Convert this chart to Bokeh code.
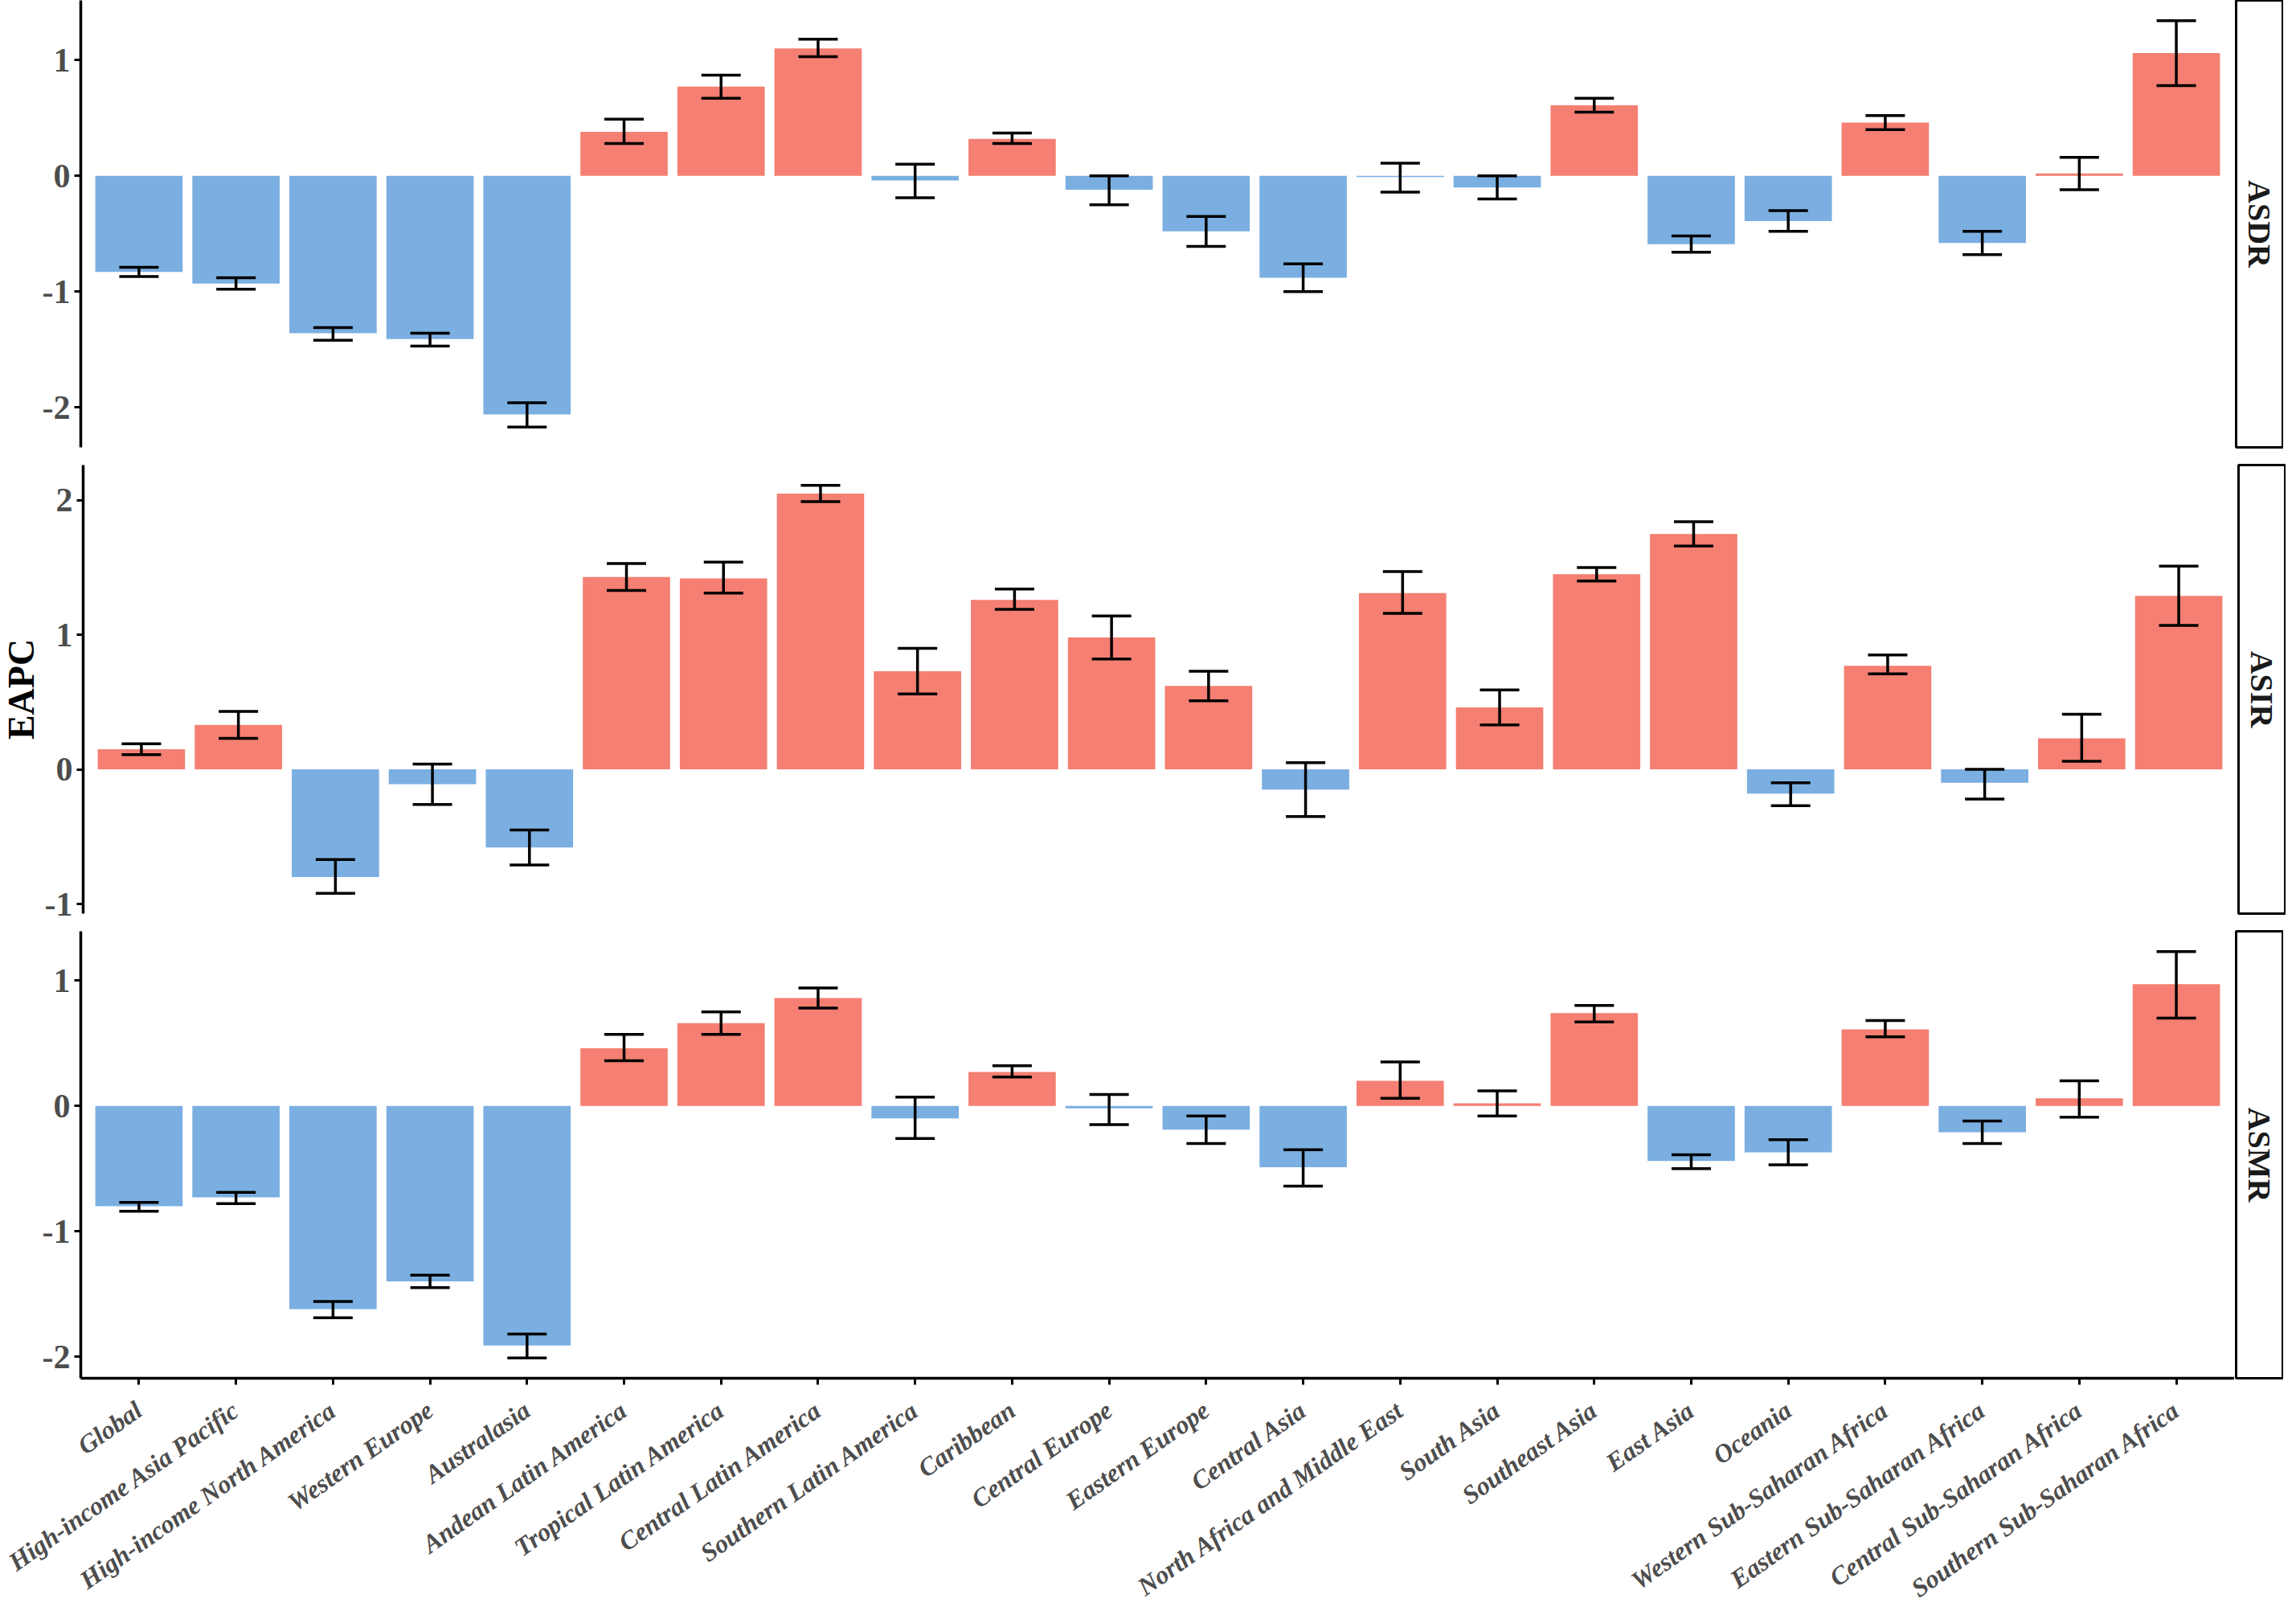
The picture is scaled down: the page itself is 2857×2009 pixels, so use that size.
import math
from bokeh.plotting import figure
from bokeh.models import (ColumnDataSource, FactorRange, Range1d, Whisker, TeeHead,
                          SingleIntervalTicker, CustomJSTickFormatter)
from bokeh.layouts import row, column
from bokeh.embed import file_html
from bokeh.resources import INLINE
from bokeh.core.properties import value

regions = ["Global", "High-income Asia Pacific", "High-income North America", "Western Europe",
           "Australasia", "Andean Latin America", "Tropical Latin America", "Central Latin America",
           "Southern Latin America", "Caribbean", "Central Europe", "Eastern Europe", "Central Asia",
           "North Africa and Middle East", "South Asia", "Southeast Asia", "East Asia", "Oceania",
           "Western Sub-Saharan Africa", "Eastern Sub-Saharan Africa", "Central Sub-Saharan Africa",
           "Southern Sub-Saharan Africa"]

asdr = [-0.83, -0.93, -1.36, -1.41, -2.06, 0.38, 0.77, 1.10, -0.04, 0.32, -0.12, -0.48, -0.88,
        -0.01, -0.10, 0.61, -0.59, -0.39, 0.46, -0.58, 0.02, 1.06]
asdr_lower = [-0.87, -0.98, -1.42, -1.47, -2.17, 0.28, 0.67, 1.03, -0.19, 0.28, -0.25, -0.61, -1.00,
              -0.14, -0.20, 0.55, -0.66, -0.48, 0.40, -0.68, -0.12, 0.78]
asdr_upper = [-0.79, -0.88, -1.31, -1.36, -1.96, 0.49, 0.87, 1.18, 0.10, 0.37, 0.00, -0.35, -0.76,
              0.11, 0.00, 0.67, -0.52, -0.30, 0.52, -0.48, 0.16, 1.34]

asir = [0.15, 0.33, -0.80, -0.11, -0.58, 1.43, 1.42, 2.05, 0.73, 1.26, 0.98, 0.62, -0.15,
        1.31, 0.46, 1.45, 1.75, -0.18, 0.77, -0.10, 0.23, 1.29]
asir_lower = [0.11, 0.23, -0.92, -0.26, -0.71, 1.33, 1.31, 1.99, 0.56, 1.19, 0.82, 0.51, -0.35,
              1.16, 0.33, 1.40, 1.66, -0.27, 0.71, -0.22, 0.06, 1.07]
asir_upper = [0.19, 0.43, -0.67, 0.04, -0.45, 1.53, 1.54, 2.11, 0.90, 1.34, 1.14, 0.73, 0.05,
              1.47, 0.59, 1.50, 1.84, -0.10, 0.85, 0.00, 0.41, 1.51]

asmr = [-0.80, -0.73, -1.62, -1.40, -1.91, 0.46, 0.66, 0.86, -0.10, 0.27, -0.02, -0.19, -0.49,
        0.20, 0.02, 0.74, -0.44, -0.37, 0.61, -0.21, 0.06, 0.97]
asmr_lower = [-0.84, -0.78, -1.69, -1.45, -2.01, 0.36, 0.57, 0.78, -0.26, 0.23, -0.15, -0.30, -0.64,
              0.06, -0.08, 0.67, -0.50, -0.47, 0.55, -0.30, -0.09, 0.70]
asmr_upper = [-0.77, -0.69, -1.56, -1.35, -1.82, 0.57, 0.75, 0.94, 0.07, 0.32, 0.09, -0.08, -0.35,
              0.35, 0.12, 0.80, -0.39, -0.27, 0.68, -0.12, 0.20, 1.23]

metrics = ["ASDR", "ASIR", "ASMR"]
y_label = "EAPC"

FONT = "Liberation Serif"
BLUE = "#7BAFE1"
RED = "#F47F72"
TICK_COLOR = "#4D4D4D"
FRAME_W = 2680
LEFT_TOTAL = 100
EAPC_W = 52


def panel(vals, lows, ups, frame_h, top_b, bottom_axis, left_b):
    src = ColumnDataSource(dict(region=regions, val=vals, lower=lows, upper=ups,
                                color=[RED if v > 0 else BLUE for v in vals]))
    lo = min(min(lows), 0.0)
    hi = max(max(ups), 0.0)
    pad = 0.05 * (hi - lo)
    p = figure(x_range=FactorRange(factors=regions, range_padding=0.1,
                                   range_padding_units="absolute"),
               y_range=Range1d(lo - pad, hi + pad),
               frame_width=FRAME_W, frame_height=frame_h,
               output_backend="svg", toolbar_location=None,
               x_axis_location="below" if bottom_axis else None,
               min_border_left=left_b, min_border_right=0,
               min_border_top=top_b, min_border_bottom=20)
    p.outline_line_color = None
    p.xgrid.visible = False
    p.ygrid.visible = False
    p.background_fill_color = "white"
    p.border_fill_color = "white"

    p.vbar(x="region", top="val", bottom=0, width=0.9, fill_color="color",
           line_color=None, source=src)
    w = Whisker(source=src, base="region", upper="upper", lower="lower",
                line_color="black", line_width=3.5, level="annotation",
                upper_head=TeeHead(size=49, line_color="black", line_width=3.5),
                lower_head=TeeHead(size=49, line_color="black", line_width=3.5))
    p.add_layout(w)

    ya = p.yaxis[0]
    ya.ticker = SingleIntervalTicker(interval=1, num_minor_ticks=0)
    ya.formatter = CustomJSTickFormatter(code="return tick.toFixed(0);")
    ya.minor_tick_line_color = None
    ya.axis_line_color = "black"
    ya.axis_line_width = 3.5
    ya.major_tick_line_color = "black"
    ya.major_tick_line_width = 3
    ya.major_tick_out = 8
    ya.major_tick_in = 0
    ya.major_label_standoff = 5
    ya.major_label_text_font = FONT
    ya.major_label_text_font_style = "bold"
    ya.major_label_text_font_size = "42px"
    ya.major_label_text_color = TICK_COLOR

    if bottom_axis:
        xa = p.xaxis[0]
        xa.axis_line_color = "black"
        xa.axis_line_width = 3.5
        xa.major_tick_line_color = "black"
        xa.major_tick_line_width = 3
        xa.major_tick_out = 8
        xa.major_tick_in = 0
        xa.major_label_standoff = 28
        xa.major_label_orientation = math.radians(35)
        xa.major_label_text_font = FONT
        xa.major_label_text_font_style = "bold italic"
        xa.major_label_text_font_size = "32px"
        xa.major_label_text_color = TICK_COLOR
    return p


def strip(label, frame_h, top_b):
    s = figure(x_range=Range1d(0, 1), y_range=Range1d(0, 1),
               frame_width=58, frame_height=frame_h,
               output_backend="svg", toolbar_location=None,
               x_axis_location=None, y_axis_location=None,
               min_border_left=2, min_border_right=1,
               min_border_top=top_b, min_border_bottom=20)
    s.outline_line_color = "black"
    s.outline_line_width = 3
    s.xgrid.visible = False
    s.ygrid.visible = False
    s.text(x=[0.5], y=[0.5], text=[label], angle=-math.pi / 2,
           text_align="center", text_baseline="middle",
           text_font=value(FONT), text_font_style="bold",
           text_font_size="40px", text_color="#1A1A1A")
    return s


def label_fig(text, frame_h, top_b):
    f = figure(x_range=Range1d(0, 1), y_range=Range1d(0, 1),
               frame_width=EAPC_W, frame_height=frame_h,
               output_backend="svg", toolbar_location=None,
               x_axis_location=None, y_axis_location=None,
               min_border_left=0, min_border_right=0,
               min_border_top=top_b, min_border_bottom=20)
    f.outline_line_color = None
    f.xgrid.visible = False
    f.ygrid.visible = False
    f.text(x=[0.5], y=[0.5], text=[text], angle=math.pi / 2,
           text_align="center", text_baseline="middle",
           text_font=value(FONT), text_font_style="bold",
           text_font_size="46px", text_color="black")
    return f


p1 = panel(asdr, asdr_lower, asdr_upper, 556, 0, False, LEFT_TOTAL)
s1 = strip(metrics[0], 556, 0)
p2 = panel(asir, asir_lower, asir_upper, 558, 2, False, LEFT_TOTAL - EAPC_W)
s2 = strip(metrics[1], 558, 2)
e2 = label_fig(y_label, 558, 2)
p3 = panel(asmr, asmr_lower, asmr_upper, 556, 2, True, LEFT_TOTAL)
s3 = strip(metrics[2], 556, 2)

layout = column(
    row(p1, s1),
    row(e2, p2, s2),
    row(p3, s3),
)

open("out.html", "w").write(file_html(layout, INLINE))
